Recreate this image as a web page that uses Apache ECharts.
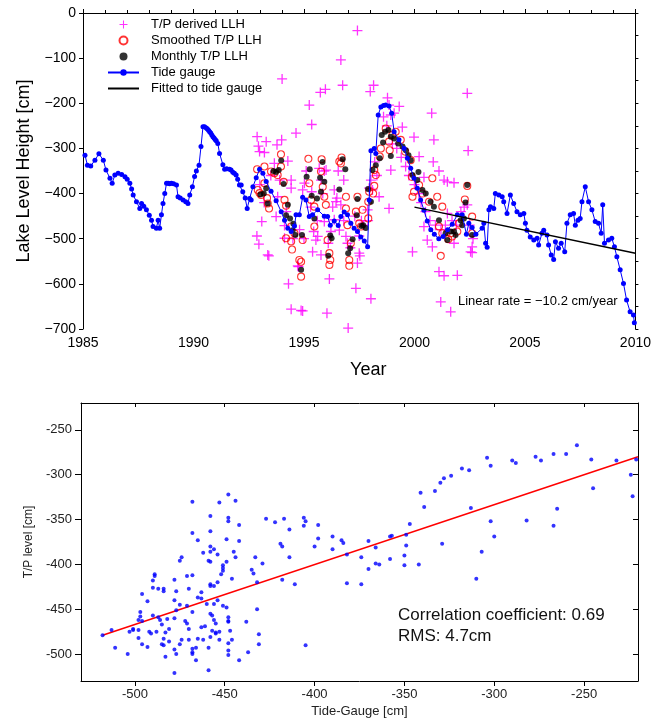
<!DOCTYPE html>
<html>
<head>
<meta charset="utf-8">
<script src="https://cdn.jsdelivr.net/npm/echarts@6/dist/echarts.min.js"></script>
<style>
    html, body { margin: 0; padding: 0; background: #fff; }
    #chart { width: 654px; height: 726px; }
</style>
</head>
<body>
<div id="chart"></div>
<script>
// ---- top panel: lake level time series [year, cm] ----
const tideGauge = [
    [1985.09, -315], [1985.2, -337], [1985.35, -339], [1985.54, -326], [1985.72, -312], [1985.92, -326],
    [1986.04, -348], [1986.22, -366], [1986.32, -377], [1986.44, -359], [1986.59, -355], [1986.75, -358],
    [1986.9, -363], [1987.0, -368], [1987.12, -377], [1987.2, -390], [1987.27, -403], [1987.42, -418],
    [1987.57, -433], [1987.65, -422], [1987.75, -428], [1987.87, -436], [1988.0, -448], [1988.1, -459],
    [1988.17, -473], [1988.32, -477], [1988.4, -459], [1988.47, -477], [1988.55, -447], [1988.62, -422],
    [1988.7, -400], [1988.78, -377], [1988.85, -377], [1988.92, -378], [1989.0, -377], [1989.1, -378],
    [1989.23, -381], [1989.3, -407], [1989.4, -410], [1989.53, -414], [1989.65, -418], [1989.75, -422],
    [1989.83, -403], [1989.95, -385], [1990.05, -362], [1990.13, -350],
    [1990.25, -337], [1990.34, -296], [1990.43, -252], [1990.5, -252], [1990.58, -255], [1990.63, -257],
    [1990.68, -260], [1990.73, -263], [1990.78, -266], [1990.83, -270], [1990.88, -274], [1990.93, -277],
    [1990.98, -280], [1991.03, -283], [1991.1, -289], [1991.18, -311], [1991.33, -336], [1991.41, -346],
    [1991.5, -345], [1991.63, -346], [1991.7, -348], [1991.78, -353], [1991.85, -355], [1991.93, -359],
    [1992.0, -368], [1992.08, -381], [1992.16, -381],
    [1992.23, -396], [1992.34, -410], [1992.43, -433], [1992.54, -411], [1992.61, -414], [1992.69, -385],
    [1992.84, -365], [1992.99, -346], [1993.14, -355], [1993.29, -373], [1993.51, -395], [1993.74, -416],
    [1993.97, -440], [1994.12, -459], [1994.27, -477], [1994.42, -484], [1994.57, -472], [1994.64, -447],
    [1994.79, -447], [1994.94, -408], [1995.09, -414], [1995.24, -451], [1995.39, -447], [1995.62, -436],
    [1995.92, -450], [1996.07, -451], [1996.19, -470], [1996.37, -461], [1996.55, -471], [1996.67, -451],
    [1996.82, -441], [1996.97, -447], [1997.12, -466], [1997.27, -477], [1997.42, -484], [1997.57, -496],
    [1997.73, -505], [1997.88, -518], [1997.95, -414], [1998.03, -305], [1998.18, -300], [1998.25, -311],
    [1998.36, -226], [1998.48, -208], [1998.6, -205], [1998.7, -204], [1998.85, -206], [1998.97, -222],
    [1999.08, -263], [1999.3, -281], [1999.53, -300], [1999.68, -322], [1999.83, -344], [1999.98, -366],
    [2000.13, -388], [2000.28, -414], [2000.43, -437], [2000.58, -461], [2000.74, -480], [2000.9, -490],
    [2001.1, -500], [2001.3, -495], [2001.5, -480], [2001.71, -468], [2001.94, -447], [2002.16, -447],
    [2002.35, -490], [2002.46, -466], [2002.61, -475], [2002.78, -490], [2003.06, -477], [2003.14, -466],
    [2003.22, -510], [2003.29, -519], [2003.37, -436], [2003.44, -429], [2003.59, -433], [2003.66, -400],
    [2003.82, -403], [2003.97, -407], [2004.04, -418], [2004.19, -444], [2004.34, -403], [2004.49, -422],
    [2004.64, -440], [2004.79, -447], [2004.95, -444], [2005.02, -466], [2005.09, -481], [2005.24, -496],
    [2005.4, -503], [2005.55, -499], [2005.62, -514], [2005.77, -488], [2005.85, -481], [2006.0, -492],
    [2006.07, -514], [2006.19, -536], [2006.3, -546], [2006.38, -507], [2006.52, -521], [2006.64, -510],
    [2006.8, -529], [2006.9, -466], [2007.05, -447], [2007.2, -444], [2007.28, -470], [2007.4, -459],
    [2007.5, -455], [2007.58, -418], [2007.73, -385], [2007.88, -418], [2008.03, -436], [2008.18, -462],
    [2008.33, -466], [2008.45, -488], [2008.52, -425], [2008.6, -510], [2008.78, -503], [2008.93, -499],
    [2009.05, -518], [2009.16, -540], [2009.31, -569], [2009.46, -599], [2009.6, -636], [2009.76, -662],
    [2009.91, -669], [2009.95, -686]
];

const tpDerived = [
    [1994.01, -146], [1995.24, -204], [1995.35, -247], [1994.64, -266], [1995.74, -176], [1995.97, -169],
    [1996.67, -104], [1996.75, -160], [1997.42, -39], [1998.0, -174], [1998.15, -160], [1998.78, -188],
    [2002.39, -178], [2000.78, -222], [1999.08, -222], [2002.43, -305], [2000.88, -281], [1999.98, -275],
    [1999.45, -253], [2001.11, -350], [2000.85, -330], [1999.31, -207], [1998.93, -226], [1998.85, -204],
    [1992.88, -274], [1992.94, -295], [1992.99, -307], [1993.21, -309], [1993.29, -285], [1993.78, -292],
    [1993.99, -281], [1993.66, -333], [1994.27, -328], [1993.09, -462], [1993.74, -451], [1994.12, -499],
    [1992.87, -494], [1992.96, -512], [1993.36, -536], [1993.41, -538], [1994.12, -471], [1993.81, -407],
    [1994.42, -388], [1994.42, -370], [1994.3, -600], [1994.42, -656], [1994.87, -659], [1994.94, -660],
    [1994.72, -560], [1994.75, -562], [1995.69, -344], [1995.92, -350], [1995.77, -370], [1995.02, -377],
    [1996.37, -392], [1995.35, -396], [1994.94, -392], [1996.67, -425], [1996.49, -410], [1995.39, -529],
    [1995.77, -536], [1995.54, -503], [1996.04, -665], [1996.15, -589], [1997.0, -698], [1997.35, -610],
    [1997.42, -554], [1997.53, -538], [1996.97, -510], [1998.03, -633], [1998.03, -370], [1997.95, -388],
    [1997.88, -436], [1997.5, -494], [1996.37, -458], [1996.6, -481], [1996.9, -495], [1995.92, -462],
    [1995.44, -484], [1995.62, -495], [1996.22, -484], [1996.45, -418], [1996.0, -348], [1997.5, -532],
    [1998.4, -407], [1998.1, -392], [1998.85, -433], [1998.93, -348], [2000.21, -318], [2001.49, -374],
    [2001.79, -376], [2001.34, -370], [2002.39, -425], [2002.61, -518], [2002.54, -529], [2001.79, -510],
    [1999.91, -529], [2000.81, -518], [2001.11, -573], [2001.34, -582], [2001.94, -581], [2001.19, -640],
    [2001.64, -662], [2000.43, -364], [2000.58, -503], [2000.43, -473], [2001.49, -444], [2002.61, -531],
    [1998.6, -230], [1998.75, -250], [1999.0, -290], [1999.2, -300], [1999.4, -320], [1999.6, -340],
    [1999.75, -360], [2000.0, -380], [2000.2, -400], [2000.3, -420], [2000.5, -440], [2000.7, -460],
    [2000.95, -470], [2001.2, -480], [2001.4, -470], [2001.7, -460], [2001.9, -470], [2002.1, -440],
    [2002.25, -430], [2002.5, -470], [2002.65, -500], [1998.2, -330], [1998.3, -360], [1997.9, -460],
    [1997.7, -470], [1993.0, -380], [1993.2, -420], [1993.5, -360], [1993.9, -370], [1994.2, -440],
    [1994.5, -500], [1994.8, -480], [1995.1, -350], [1995.3, -430], [1995.6, -460], [1995.85, -400],
    [1996.1, -510], [1996.3, -430], [1996.55, -350], [1996.8, -370], [1997.1, -520], [1997.3, -450],
    [1997.6, -460], [1996.8, -460], [1995.0, -500]
];

const tpSmoothed = [
    [1992.88, -346], [1992.91, -392], [1992.99, -399], [1993.06, -403], [1993.21, -340], [1993.21, -377],
    [1993.33, -410], [1993.36, -422], [1993.42, -433], [1993.51, -351], [1993.66, -355], [1993.81, -359],
    [1993.96, -313], [1993.96, -340], [1994.08, -374], [1994.12, -414], [1994.19, -427], [1994.19, -499],
    [1994.42, -473], [1994.42, -506], [1994.46, -524], [1994.57, -488], [1994.79, -547], [1994.87, -551],
    [1994.87, -584], [1994.94, -503], [1995.2, -323], [1995.24, -377], [1995.32, -414], [1995.47, -429],
    [1995.47, -473], [1995.8, -324], [1995.77, -351], [1995.85, -385], [1995.92, -407], [1995.99, -425],
    [1996.07, -503], [1996.15, -532], [1996.19, -547], [1996.15, -558], [1996.6, -329], [1996.67, -333],
    [1996.7, -320], [1996.9, -407], [1996.9, -433], [1996.97, -470], [1997.05, -547], [1997.05, -560],
    [1997.12, -510], [1997.35, -440], [1997.42, -407], [1997.5, -466], [1997.58, -473], [1997.65, -436],
    [1997.91, -455], [1997.91, -418], [1997.95, -396], [1998.18, -348], [1998.25, -359], [1998.18, -383],
    [1998.13, -400], [1998.48, -300], [1998.43, -318], [1998.7, -256], [1998.85, -285], [1998.88, -304],
    [1999.0, -270], [1999.15, -263], [1999.38, -281], [1999.58, -307], [1999.83, -326], [1999.88, -363],
    [1999.98, -396], [1999.91, -407], [2000.21, -381], [2000.36, -400], [2000.81, -366], [2000.66, -418],
    [2001.03, -407], [2001.26, -429], [2001.11, -473], [2001.19, -538], [2001.26, -488], [2001.53, -501],
    [2001.64, -488], [2001.71, -495], [2001.94, -484], [2002.01, -466], [2002.28, -413], [2002.39, -383],
    [2002.61, -488], [2002.61, -451]
];

const tpMonthly = [
    [1993.03, -402], [1993.18, -400], [1993.29, -388], [1993.36, -422], [1993.62, -350], [1993.74, -352],
    [1993.86, -348], [1993.97, -327], [1994.08, -379], [1994.19, -448], [1994.27, -425], [1994.37, -455],
    [1994.52, -467], [1994.49, -481], [1994.61, -492], [1994.87, -569], [1994.91, -492], [1995.12, -363],
    [1995.26, -346], [1995.35, -405], [1995.47, -455], [1995.59, -411], [1995.73, -365], [1995.77, -396],
    [1995.84, -330], [1995.92, -374], [1996.1, -538], [1996.19, -493], [1996.25, -499], [1996.6, -391],
    [1996.75, -324], [1996.87, -346], [1997.0, -532], [1997.09, -521], [1997.2, -501], [1997.39, -448],
    [1997.42, -412], [1997.6, -472], [1997.68, -470], [1997.8, -476], [1997.9, -390], [1998.03, -418],
    [1998.1, -348], [1998.25, -337], [1998.43, -322], [1998.52, -270], [1998.58, -287], [1998.67, -263],
    [1998.82, -259], [1998.93, -317], [1998.93, -274], [1999.08, -278], [1999.26, -289], [1999.46, -296],
    [1999.61, -304], [1999.73, -315], [1999.83, -326], [1999.91, -359], [2000.13, -370], [2000.18, -352],
    [2000.36, -392], [2000.51, -400], [2000.73, -418], [2000.88, -429], [2001.11, -459], [2001.41, -488],
    [2001.49, -503], [2001.64, -484], [2001.79, -484], [2001.86, -492], [2002.09, -459], [2002.16, -470],
    [2002.24, -455], [2002.31, -420], [2002.39, -381], [2002.61, -492]
];

const fittedLine = [[2000.0, -430], [2010.0, -532]];

const topYearTicks = [1985, 2010];
const topLevelRange = [-700, 0];

// ---- bottom panel: T/P vs tide gauge [tide cm, T/P cm] ----
const tpVsTide = [
    [-518, -479], [-513, -473], [-511, -493], [-504, -500], [-503, -475], [-501, -472], [-501, -473],
    [-498, -473], [-498, -482], [-496, -489], [-493, -492], [-498, -462], [-497, -458], [-497, -453],
    [-496, -463], [-496, -433], [-493, -441], [-492, -475], [-491, -477], [-490, -457], [-490, -426],
    [-490, -418], [-489, -413], [-489, -411], [-487, -427], [-487, -459], [-488, -475], [-486, -462],
    [-485, -467], [-484, -483], [-485, -489], [-484, -490], [-484, -430], [-484, -427], [-483, -476],
    [-483, -503], [-482, -461], [-481, -486], [-481, -472], [-478, -495], [-478, -440], [-477, -430],
    [-478, -417], [-478, -460], [-477, -500], [-478, -521], [-477, -451], [-475, -489], [-475, -396],
    [-474, -392], [-475, -445], [-474, -484], [-472, -463], [-471, -413], [-470, -427], [-471, -466],
    [-470, -472], [-471, -446], [-470, -484], [-468, -494], [-468, -500], [-468, -498], [-468, -365],
    [-468, -330], [-468, -412], [-468, -453], [-466, -493], [-466, -507], [-465, -437], [-465, -373],
    [-465, -483], [-463, -438], [-463, -431], [-462, -387], [-463, -470], [-462, -484], [-461, -469],
    [-460, -444], [-459, -493], [-459, -518], [-459, -396], [-458, -397], [-458, -424], [-458, -422],
    [-458, -380], [-458, -386], [-458, -363], [-458, -346], [-458, -455], [-457, -457], [-458, -481],
    [-457, -474], [-456, -444], [-456, -424], [-456, -383], [-456, -462], [-455, -466], [-455, -477],
    [-455, -476], [-454, -389], [-454, -420], [-454, -440], [-453, -475], [-453, -331], [-453, -484],
    [-452, -411], [-451, -401], [-451, -407], [-451, -404], [-451, -446], [-449, -397], [-449, -372],
    [-449, -448], [-448, -322], [-448, -348], [-448, -352], [-448, -459], [-448, -463], [-448, -464],
    [-447, -474], [-448, -488], [-448, -496], [-448, -501], [-446, -416], [-446, -484], [-445, -386],
    [-444, -329], [-444, -392], [-442, -374], [-442, -507], [-442, -356], [-438, -464], [-437, -498],
    [-435, -406], [-434, -410], [-433, -392], [-432, -450], [-432, -420], [-431, -489], [-431, -478],
    [-429, -399], [-427, -349], [-422, -353], [-419, -377], [-417, -349], [-418, -380], [-414, -361],
    [-414, -392], [-418, -417], [-411, -422], [-406, -348], [-406, -357], [-405, -352], [-405, -490],
    [-400, -380], [-398, -356], [-398, -371], [-390, -369], [-390, -383], [-385, -373], [-384, -376],
    [-382, -389], [-382, -421], [-374, -392], [-374, -422], [-370, -374], [-370, -405], [-366, -381],
    [-366, -399], [-364, -400], [-358, -369], [-357, -368], [-358, -394], [-350, -390], [-350, -401],
    [-349, -379], [-349, -367], [-347, -355], [-342, -400], [-341, -320], [-339, -336], [-333, -318],
    [-330, -309], [-328, -304], [-329, -377], [-324, -301], [-318, -293], [-314, -295], [-313, -337],
    [-310, -416], [-307, -386], [-304, -281], [-302, -290], [-302, -352], [-300, -369], [-290, -284],
    [-288, -287], [-282, -351], [-277, -280], [-274, -284], [-267, -277], [-267, -357], [-265, -338],
    [-260, -277], [-254, -267], [-246, -283], [-245, -315], [-232, -284], [-224, -300], [-223, -324],
    [-221, -283]
];

const regressionLine = [[-518, -479], [-220, -280]];

const bottomRange = [-530, -220];
const bottomTicks = [-500, -450, -400, -350, -300, -250];

// ---- styles ----
const FONT = "'Liberation Sans', Arial, Helvetica, sans-serif";
const BLACK = "#000";
// filled plus glyph for the T/P derived points
const PLUS = "path://M0,0.435H1V0.565H0ZM0.435,0H0.565V1H0.435Z";

const minus_fmt = (v) => (v < 0 ? "\u2212" + Math.abs(v) : String(v));

const axis_line = { show: true, lineStyle: { color: BLACK, width: 1 } };

const chart = echarts.init(document.getElementById("chart"), null, { renderer: "canvas" });

chart.setOption({
    animation: false,
    backgroundColor: "#fff",
    textStyle: { fontFamily: FONT },
    grid: [
        { left: 83, top: 13, width: 554, height: 316 },
        { left: 81, top: 403, width: 557, height: 278 },
    ],
    legend: {
        data: ["T/P derived LLH", "Smoothed T/P LLH", "Monthly T/P LLH", "Tide gauge", "Fitted to tide gauge"],
        orient: "vertical",
        left: 107,
        top: 18,
        padding: 0,
        itemGap: 3,
        itemWidth: 31,
        itemHeight: 8,
        selectedMode: false,
        formatter: (name) => "{t|" + name + "}",
        textStyle: {
            rich: { t: { fontFamily: FONT, fontSize: 13, color: BLACK, lineHeight: 15, padding: [0, 0, 0, 7] } },
        },
    },
    xAxis: [
        {
            // top panel, bottom axis
            type: "value", gridIndex: 0, position: "bottom",
            min: topYearTicks[0], max: topYearTicks[1], interval: 5,
            axisLine: axis_line,
            axisTick: { show: true, inside: true, length: 4, lineStyle: { color: BLACK } },
            minorTick: { show: true, splitNumber: 5, length: 3, lineStyle: { color: BLACK } },
            axisLabel: { color: BLACK, fontSize: 14, margin: 7, formatter: (v) => String(v) },
            splitLine: { show: false },
            name: "Year", nameLocation: "middle", nameGap: 32,
            nameTextStyle: { color: BLACK, fontSize: 18, padding: [0, 0, 0, 18] },
        },
        {
            // top panel, top axis
            type: "value", gridIndex: 0, position: "top",
            min: topYearTicks[0], max: topYearTicks[1], interval: 5,
            axisLine: axis_line,
            axisTick: { show: true, inside: false, length: 4, lineStyle: { color: BLACK } },
            minorTick: { show: true, splitNumber: 5, length: 3, lineStyle: { color: BLACK } },
            axisLabel: { show: false },
            splitLine: { show: false },
        },
        {
            // bottom panel, bottom axis
            type: "value", gridIndex: 1, position: "bottom",
            min: bottomRange[0], max: bottomRange[1],
            axisLine: axis_line,
            axisTick: { show: true, inside: false, length: 5, customValues: bottomTicks, lineStyle: { color: BLACK } },
            axisLabel: { color: "#222", fontSize: 13, margin: 7, customValues: bottomTicks },
            splitLine: { show: false },
            name: "Tide-Gauge [cm]", nameLocation: "middle", nameGap: 24,
            nameTextStyle: { color: "#222", fontSize: 13 },
        },
        {
            // bottom panel, top axis
            type: "value", gridIndex: 1, position: "top",
            min: bottomRange[0], max: bottomRange[1],
            axisLine: axis_line,
            axisTick: { show: true, inside: true, length: 4, customValues: bottomTicks, lineStyle: { color: BLACK } },
            axisLabel: { show: false },
            splitLine: { show: false },
        },
    ],
    yAxis: [
        {
            type: "value", gridIndex: 0, position: "left",
            min: topLevelRange[0], max: topLevelRange[1], interval: 100,
            axisLine: axis_line,
            axisTick: { show: true, inside: false, length: 4, lineStyle: { color: BLACK } },
            axisLabel: { color: BLACK, fontSize: 14, margin: 7, formatter: minus_fmt },
            splitLine: { show: false },
            name: "Lake Level Height [cm]", nameLocation: "middle", nameGap: 50,
            nameTextStyle: { color: BLACK, fontSize: 18 },
        },
        {
            type: "value", gridIndex: 0, position: "right",
            min: topLevelRange[0], max: topLevelRange[1], interval: 50,
            axisLine: axis_line,
            axisTick: { show: true, inside: false, length: 3, lineStyle: { color: BLACK } },
            axisLabel: { show: false },
            splitLine: { show: false },
        },
        {
            type: "value", gridIndex: 1, position: "left",
            min: bottomRange[0], max: bottomRange[1],
            axisLine: axis_line,
            axisTick: { show: true, inside: false, length: 6, customValues: bottomTicks, lineStyle: { color: BLACK } },
            axisLabel: { color: "#222", fontSize: 13, margin: 9, customValues: bottomTicks },
            splitLine: { show: false },
            name: "T/P level [cm]", nameLocation: "middle", nameGap: 44,
            nameTextStyle: { color: "#222", fontSize: 12 },
        },
        {
            type: "value", gridIndex: 1, position: "right",
            min: bottomRange[0], max: bottomRange[1],
            axisLine: axis_line,
            axisTick: { show: true, inside: true, length: 5, customValues: bottomTicks, lineStyle: { color: BLACK } },
            axisLabel: { show: false },
            splitLine: { show: false },
        },
    ],
    graphic: [
        {
            type: "text", left: 458, top: 295,
            style: { text: "Linear rate = \u221210.2 cm/year", font: "13px " + FONT, fill: BLACK },
        },
        {
            type: "text", left: 398, top: 607,
            style: { text: "Correlation coefficient: 0.69", font: "17px " + FONT, fill: "#111" },
        },
        {
            type: "text", left: 398, top: 628,
            style: { text: "RMS: 4.7cm", font: "17px " + FONT, fill: "#111" },
        },
    ],
    series: [
        {
            name: "T/P derived LLH", type: "scatter", xAxisIndex: 0, yAxisIndex: 0,
            symbol: PLUS, symbolSize: 10, data: tpDerived, z: 1,
            itemStyle: { color: "#ff00ff" },
        },
        {
            name: "Smoothed T/P LLH", type: "scatter", xAxisIndex: 0, yAxisIndex: 0,
            symbol: "circle", symbolSize: 7, data: tpSmoothed, z: 2,
            itemStyle: { color: "rgba(255,255,255,0)", borderColor: "#ff0000", borderWidth: 1.1 },
        },
        {
            name: "Monthly T/P LLH", type: "scatter", xAxisIndex: 0, yAxisIndex: 0,
            symbol: "circle", symbolSize: 6, data: tpMonthly, z: 3,
            itemStyle: { color: BLACK },
        },
        {
            name: "Tide gauge", type: "line", xAxisIndex: 0, yAxisIndex: 0,
            data: tideGauge, symbol: "circle", symbolSize: 5, showSymbol: true, z: 4,
            lineStyle: { color: "#0000ff", width: 1 },
            itemStyle: { color: "#0000ff" },
        },
        {
            // transparent item colour keeps the legend icon a plain line
            name: "Fitted to tide gauge", type: "line", xAxisIndex: 0, yAxisIndex: 0,
            data: fittedLine, showSymbol: false, symbol: "none", z: 5,
            lineStyle: { color: BLACK, width: 1.5 },
            itemStyle: { color: "rgba(0,0,0,0)", borderWidth: 0 },
        },
        {
            name: "regression", type: "line", xAxisIndex: 2, yAxisIndex: 2,
            data: regressionLine, showSymbol: false, symbol: "none", z: 2,
            lineStyle: { color: "#ff0000", width: 1.5 },
        },
        {
            name: "T/P vs tide", type: "scatter", xAxisIndex: 2, yAxisIndex: 2,
            data: tpVsTide, symbol: "circle", symbolSize: 4, z: 3,
            itemStyle: { color: "#0000ff" },
        },
    ],
});
</script>
</body>
</html>
